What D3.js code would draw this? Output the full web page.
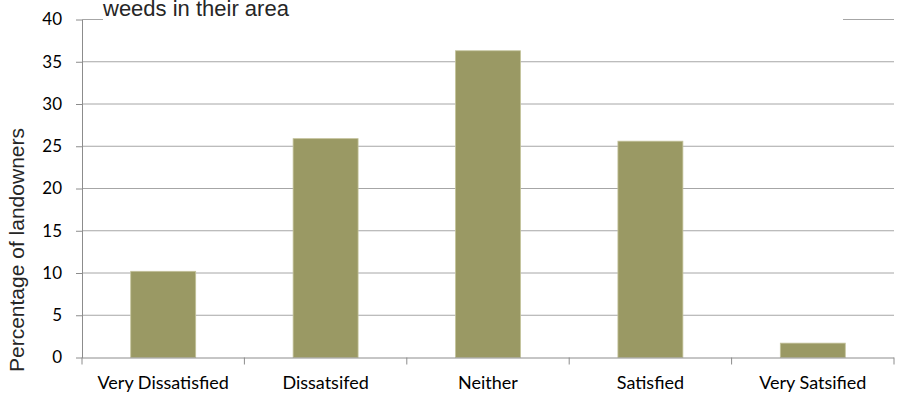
<!DOCTYPE html>
<html>
<head>
<meta charset="utf-8">
<script src="https://cdn.jsdelivr.net/npm/d3@7"></script>
<style>
  html, body { margin: 0; padding: 0; background: #ffffff; }
  svg { display: block; }
</style>
</head>
<body>
<svg id="chart" width="901" height="395"></svg>
<script>
const categories = ["Very Dissatisfied", "Dissatsifed", "Neither", "Satisfied", "Very Satsified"];
const values = [10.2, 25.9, 36.3, 25.6, 1.7];
const yTicks = [0, 5, 10, 15, 20, 25, 30, 35, 40];
const titleText = "weeds in their area";
const yTitle = "Percentage of landowners";

(function () {
const svg = d3.select("#chart");
const pL = 82, pR = 894, pT = 19.5, pB = 357.5;

const x = d3.scaleBand().domain(categories).range([pL, pR]).paddingInner(0.6).paddingOuter(0.3);
const y = d3.scaleLinear().domain([0, 40]).range([pB, pT]);

const gridColor = "#a6a6a6";
const axisColor = "#8c8c8c";
const tickFont = "Lato, 'Open Sans', sans-serif";

// gridlines
svg.append("g").selectAll("line").data(yTicks.filter(d => d > 0)).join("line")
  .attr("x1", pL).attr("x2", pR)
  .attr("y1", d => y(d)).attr("y2", d => y(d))
  .attr("stroke", gridColor).attr("stroke-width", 1);

// bars
svg.append("g").selectAll("rect").data(categories).join("rect")
  .attr("x", d => x(d))
  .attr("width", x.bandwidth())
  .attr("y", (d, i) => y(values[i]))
  .attr("height", (d, i) => y(0) - y(values[i]))
  .attr("fill", "#9a9964")
  .attr("stroke", "#c3c29a")
  .attr("stroke-width", 0.8);

// y axis
const yAxis = d3.axisLeft(y).tickValues(yTicks).tickSize(6).tickSizeOuter(0).tickPadding(14);
const gy = svg.append("g").attr("transform", `translate(${pL},0)`).call(yAxis);
gy.select(".domain").attr("stroke", axisColor);
gy.selectAll(".tick line").attr("stroke", axisColor);
gy.selectAll(".tick text").attr("font-family", tickFont).attr("font-size", 17).attr("fill", "#000");

// x axis
const xAxis = d3.axisBottom(x).tickSize(0).tickSizeOuter(0).tickPadding(19);
const gx = svg.append("g").attr("transform", `translate(0,${pB})`).call(xAxis);
gx.select(".domain").attr("stroke", axisColor).attr("d", `M${pL},0.5H${pR}`);
gx.selectAll(".tick text").attr("font-family", tickFont).attr("font-size", 18).attr("fill", "#000");

// category boundary ticks
const step = x.step();
const boundaries = categories.map(c => x(c) - step * x.paddingOuter()).concat([pR]);
gx.append("g").selectAll("line").data(boundaries).join("line")
  .attr("x1", d => d).attr("x2", d => d)
  .attr("y1", 0).attr("y2", 7)
  .attr("stroke", axisColor);

// title box (covers part of top gridline)
svg.append("rect").attr("x", 103).attr("y", 0).attr("width", 740).attr("height", 24).attr("fill", "#fff");
svg.append("text").attr("x", 103).attr("y", 16)
  .attr("font-family", "'Liberation Sans', Arial, sans-serif").attr("font-size", 22)
  .attr("fill", "#262626").text(titleText);

// y title
svg.append("text")
  .attr("transform", "translate(24,250) rotate(-90)")
  .attr("text-anchor", "middle")
  .attr("font-family", "'Liberation Sans', Arial, sans-serif").attr("font-size", 21)
  .attr("fill", "#262626").text(yTitle);
})();
</script>
</body>
</html>
